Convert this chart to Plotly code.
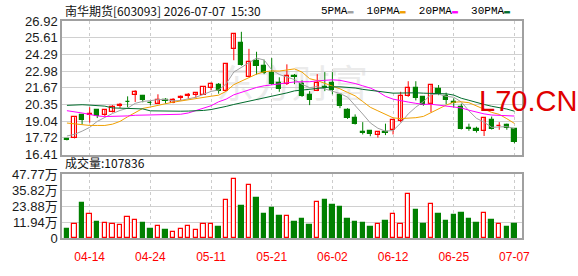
import plotly.graph_objects as go

dates = ["04-09","04-10","04-13","04-14","04-15","04-16","04-17","04-20","04-21","04-22",
         "04-23","04-24","04-27","04-28","04-29","04-30","05-06","05-07","05-08","05-11",
         "05-12","05-13","05-14","05-15","05-18","05-19","05-20","05-21","05-22","05-25",
         "05-26","05-27","05-28","05-29","06-01","06-02","06-03","06-04","06-05","06-08",
         "06-09","06-10","06-11","06-12","06-15","06-16","06-17","06-18","06-22","06-23",
         "06-24","06-25","06-26","06-29","06-30","07-01","07-02","07-03","07-06","07-07"]

opens = [17.60,17.70,19.50,19.55,19.89,19.50,19.75,20.22,20.58,21.06,
         21.01,20.48,20.42,20.70,20.48,20.85,21.02,21.08,21.13,21.61,
         21.86,21.45,24.70,25.17,22.52,23.80,23.37,22.85,22.08,21.96,
         22.60,21.95,21.08,21.45,21.72,22.08,21.10,19.89,19.28,18.20,
         18.23,17.92,18.18,18.36,19.02,21.03,21.64,20.93,20.42,21.57,
         20.99,20.52,20.13,18.46,18.45,18.23,19.13,18.63,18.77,18.43]
highs = [17.65,19.35,19.55,20.13,19.93,19.95,20.30,20.47,20.99,21.47,
         21.10,20.62,21.15,20.85,20.85,21.06,21.25,21.30,21.75,22.08,
         22.04,23.58,25.92,26.07,24.73,24.50,23.88,24.00,22.49,23.51,
         22.75,22.25,21.40,22.74,22.90,22.90,21.12,20.06,19.57,18.96,
         18.26,18.18,18.84,19.12,21.35,22.18,22.18,21.00,21.92,21.88,
         21.28,20.84,20.42,18.84,18.60,19.28,19.40,18.96,18.84,18.48]
lows = [17.52,17.68,18.77,18.91,19.28,19.45,19.72,20.08,20.13,20.55,
        20.52,20.30,20.40,20.42,20.45,20.67,20.80,20.87,21.10,21.47,
        21.20,21.40,23.83,23.40,22.50,22.70,22.74,21.88,21.35,21.88,
        21.95,20.95,20.30,21.40,21.40,21.15,20.06,19.21,18.77,17.99,
        17.85,17.74,17.94,17.99,18.95,20.95,20.67,20.25,19.74,21.08,
        20.37,20.11,18.38,18.28,18.14,17.87,18.38,18.36,18.36,17.30]
closes = [17.57,19.33,19.09,19.64,19.45,19.91,20.13,20.27,20.53,21.35,
          20.69,20.43,20.67,20.62,20.74,20.90,21.08,21.28,21.69,21.93,
          21.45,23.56,25.88,23.45,23.71,23.38,22.85,22.00,21.59,22.61,
          22.50,21.00,20.67,22.01,21.66,21.47,20.25,19.28,18.84,18.14,
          17.99,18.16,18.14,19.09,21.00,21.64,20.84,20.30,21.88,21.20,
          20.74,20.48,18.43,18.40,18.23,19.25,18.43,18.68,18.48,17.43]

# volume in 万 (10k)
volumes = [6.9,10.4,26.3,17.8,11.8,11.5,10.8,9.7,15.7,13.6,
           11.1,6.9,9.0,6.2,4.6,6.7,9.0,6.0,10.2,10.2,
           8.5,28.2,44.1,24.2,39.9,29.8,18.0,22.2,16.6,16.4,
           11.8,14.5,9.7,26.8,28.4,24.9,23.5,14.5,11.8,11.1,
           8.3,10.8,12.5,17.8,10.8,33.0,20.8,10.4,25.4,18.0,
           12.5,17.3,18.7,14.5,11.1,18.5,13.2,10.2,8.3,10.78]
vol_up = [0,1,0,1,0,1,1,1,1,1,
          0,0,1,0,1,1,1,1,1,1,
          0,1,1,0,1,0,0,0,0,1,
          0,0,0,1,0,0,0,0,0,0,
          0,1,0,1,1,1,0,0,1,0,
          0,0,0,0,0,1,0,1,0,0]

ma5 = [17.87,18.00,18.25,18.55,19.02,19.35,19.64,19.88,20.06,20.44,
       20.59,20.65,20.73,20.75,20.63,20.67,20.80,20.92,21.14,21.38,
       21.49,21.98,22.90,23.25,23.61,24.00,23.85,23.08,22.71,22.49,
       22.31,21.94,21.67,21.76,21.57,21.36,21.21,20.93,20.30,19.60,
       18.90,18.48,18.25,18.30,18.88,19.61,20.14,20.57,21.13,21.17,
       20.99,20.92,20.55,19.85,19.26,18.96,18.55,18.60,18.61,18.45]
ma10 = [18.89,18.82,18.72,18.70,18.70,18.70,18.80,19.02,19.38,19.73,
        20.04,20.15,20.31,20.41,20.53,20.63,20.73,20.83,20.95,21.00,
        21.08,21.39,21.91,22.20,22.49,22.74,22.92,22.99,22.98,23.05,
        23.15,22.90,22.38,22.23,22.03,21.84,21.58,21.30,21.03,20.58,
        20.13,19.85,19.59,19.30,19.24,19.25,19.31,19.41,19.72,20.02,
        20.30,20.53,20.56,20.49,20.21,19.98,19.73,19.57,19.23,18.86]
ma20 = [19.86,19.80,19.68,19.57,19.45,19.40,19.40,19.42,19.45,19.50,
        19.52,19.52,19.52,19.53,19.55,19.58,19.68,19.85,20.02,20.25,
        20.56,20.77,21.11,21.30,21.51,21.69,21.82,21.91,21.96,22.03,
        22.12,22.14,22.14,22.21,22.26,22.29,22.25,22.15,22.00,21.82,
        21.64,21.37,20.99,20.77,20.63,20.54,20.44,20.36,20.37,20.30,
        20.22,20.19,20.08,19.90,19.73,19.61,19.52,19.49,19.48,19.44]
ma30 = [20.28,20.33,20.33,20.30,20.28,20.22,20.08,20.05,20.05,20.03,
        20.00,19.85,19.83,19.82,19.82,19.82,19.83,19.85,19.88,19.95,
        20.05,20.20,20.35,20.48,20.58,20.70,20.82,20.95,21.08,21.26,
        21.42,21.48,21.53,21.61,21.68,21.74,21.74,21.71,21.65,21.54,
        21.45,21.38,21.29,21.24,21.25,21.28,21.27,21.24,21.24,21.22,
        21.19,21.09,20.84,20.68,20.49,20.35,20.21,20.10,19.99,19.82]

price_ticks = [16.41,17.72,19.04,20.35,21.67,22.98,24.29,25.61,26.92]
vol_ticks = [0,11.94,23.88,35.82,47.77]
vol_ticktext = ["0","11.94万","23.88万","35.82万","47.77万"]
date_ticks = ["04-14","04-24","05-11","05-21","06-02","06-12","06-25","07-07"]

title_text = "南华期货[603093] 2026-07-07  15:30"
vol_title = "成交量:107836"
ma_names = ["5PMA","10PMA","20PMA","30PMA"]

RED = "#ff0000"
GREEN = "#008000"
MA_COLORS = ["#a0a0a0", "#f0a000", "#ff00ff", "#006c2c"]

fig = go.Figure()

# watermark (below traces)
fig.add_shape(type="rect", xref="paper", yref="paper", x0=0.30, x1=0.70, y0=0.62, y1=0.78,
              line=dict(width=0), fillcolor="rgba(0,0,0,0)", layer="below",
              label=dict(text="东方财富", font=dict(size=38, color="#ebebeb",
                         family="Noto Sans CJK SC"), textposition="middle center"))

# wicks
for up_flag, col in ((True, RED), (False, GREEN)):
    wx, wy = [], []
    for d, o, h, l, c in zip(dates, opens, highs, lows, closes):
        if (c >= o) == up_flag:
            wx += [d, d, None]
            wy += [l, h, None]
    fig.add_trace(go.Scatter(x=wx, y=wy, mode="lines", line=dict(color=col, width=1),
                             hoverinfo="skip", showlegend=False, xaxis="x", yaxis="y"))

# bodies
ux = [d for d, o, c in zip(dates, opens, closes) if c >= o]
ub = [o for o, c in zip(opens, closes) if c >= o]
uh = [max(c - o, 0.02) for o, c in zip(opens, closes) if c >= o]
dx = [d for d, o, c in zip(dates, opens, closes) if c < o]
db = [c for o, c in zip(opens, closes) if c < o]
dh = [max(o - c, 0.02) for o, c in zip(opens, closes) if c < o]
fig.add_trace(go.Bar(x=ux, y=uh, base=ub, width=0.55, marker=dict(color="white",
                     line=dict(color=RED, width=1.2)), showlegend=False, xaxis="x", yaxis="y"))
fig.add_trace(go.Bar(x=dx, y=dh, base=db, width=0.55, marker=dict(color=GREEN,
                     line=dict(color=GREEN, width=1.2)), showlegend=False, xaxis="x", yaxis="y"))

# moving averages
for name, vals, col in zip(ma_names, [ma5, ma10, ma20, ma30], MA_COLORS):
    fig.add_trace(go.Scatter(x=dates, y=vals, mode="lines", name=name,
                             line=dict(color=col, width=1), showlegend=False,
                             xaxis="x", yaxis="y"))

# volume
vux = [d for d, u in zip(dates, vol_up) if u]
vuy = [v for v, u in zip(volumes, vol_up) if u]
vdx = [d for d, u in zip(dates, vol_up) if not u]
vdy = [v for v, u in zip(volumes, vol_up) if not u]
fig.add_trace(go.Bar(x=vux, y=vuy, width=0.58, marker=dict(color="white",
                     line=dict(color=RED, width=1.2)), showlegend=False, xaxis="x2", yaxis="y2"))
fig.add_trace(go.Bar(x=vdx, y=vdy, width=0.58, marker=dict(color=GREEN,
                     line=dict(color=GREEN, width=1.2)), showlegend=False, xaxis="x2", yaxis="y2"))

W, H = 578, 276
L, R, T, B = 55, 56, 21, 21
ph = H - T - B

def py(ypix):
    return (H - B - ypix) / ph

def px(xpix):
    return (xpix - L) / (W - L - R)

axis_common = dict(showline=True, mirror=True, linecolor="#a0a0a0", linewidth=1.5,
                   zeroline=False, ticks="")
xcommon = dict(axis_common, type="category", categoryorder="array", categoryarray=dates,
               range=[-0.65, 60.0], tickvals=date_ticks, showgrid=True,
               gridcolor="#cccccc", griddash="3px,3px", gridwidth=1)

fig.update_layout(
    width=W, height=H, margin=dict(l=L, r=R, t=T, b=B),
    paper_bgcolor="white", plot_bgcolor="white", barmode="overlay", bargap=0,
    showlegend=False,
    xaxis=dict(xcommon, anchor="y", showticklabels=False, domain=[0, 1]),
    xaxis2=dict(xcommon, anchor="y2", matches="x", showticklabels=True, domain=[0, 1],
                ticklabelstandoff=7,
                tickfont=dict(color=RED, size=12, family="Liberation Sans, Arial")),
    yaxis=dict(axis_common, domain=[py(165), 1], range=[price_ticks[0], price_ticks[-1]],
               tickvals=price_ticks, ticktext=[f"{v:.2f}" for v in price_ticks],
               showgrid=True, gridcolor="#d0d0d0", gridwidth=1,
               tickfont=dict(size=13, color="#1a1a1a", family="Liberation Sans, Arial")),
    yaxis2=dict(axis_common, domain=[0, py(186)], range=[0, vol_ticks[-1]],
                tickvals=vol_ticks, ticktext=vol_ticktext,
                showgrid=True, gridcolor="#d0d0d0", gridwidth=1,
                tickfont=dict(size=13, color="#1a1a1a",
                              family="Liberation Sans, Arial, Noto Sans CJK SC")),
)

legend_html = "  ".join(
    f"{n}<span style='color:{c};font-size:10px'>▬</span>" for n, c in zip(ma_names, MA_COLORS))

fig.add_annotation(xref="paper", yref="paper", x=px(56), y=py(10), xanchor="left",
                   yanchor="middle", showarrow=False, text=title_text,
                   font=dict(size=12, color="#111", family="Noto Sans CJK SC"))
fig.add_annotation(xref="paper", yref="paper", x=px(512), y=py(10), xanchor="right",
                   yanchor="middle", showarrow=False, text=legend_html,
                   font=dict(size=11, color="#000", family="Liberation Mono, Noto Sans CJK SC"))
fig.add_annotation(xref="paper", yref="paper", x=px(56), y=py(174), xanchor="left",
                   yanchor="middle", showarrow=False, text=vol_title,
                   font=dict(size=12, color="#111", family="Noto Sans CJK SC"))
fig.add_annotation(xref="paper", yref="paper", x=px(528), y=py(107), xanchor="center",
                   yanchor="middle", showarrow=False, text="L70.CN",
                   font=dict(size=29, color="#e00000", family="Liberation Sans, Arial"))

fig.write_html("out.html")
